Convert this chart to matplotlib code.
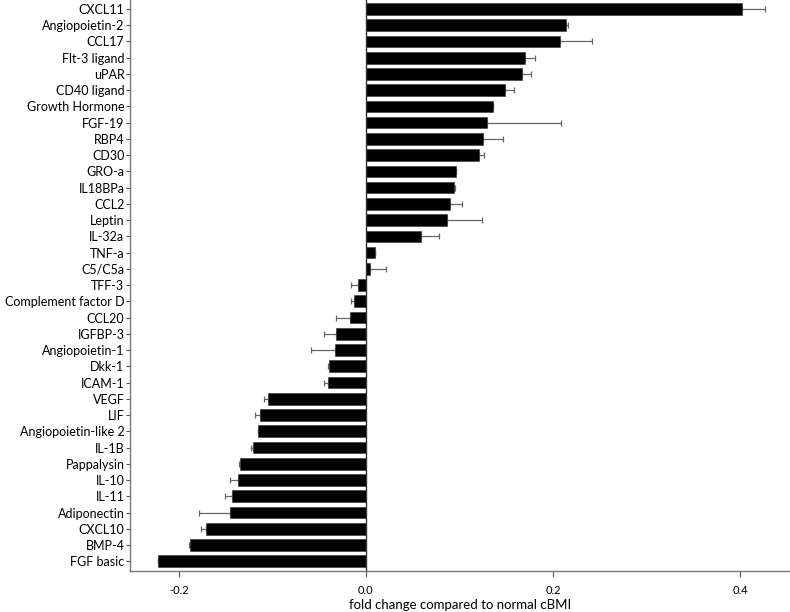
import numpy as np
import matplotlib.pyplot as plt

plt.rcParams['font.family'] = ['Lato', 'DejaVu Sans']

# proteins, top to bottom
names = ['CXCL11', 'Angiopoietin-2', 'CCL17', 'Flt-3 ligand', 'uPAR', 'CD40 ligand',
         'Growth Hormone', 'FGF-19', 'RBP4', 'CD30', 'GRO-a', 'IL18BPa', 'CCL2',
         'Leptin', 'IL-32a', 'TNF-a', 'C5/C5a', 'TFF-3', 'Complement factor D',
         'CCL20', 'IGFBP-3', 'Angiopoietin-1', 'Dkk-1', 'ICAM-1', 'VEGF', 'LIF',
         'Angiopoietin-like 2', 'IL-1B', 'Pappalysin', 'IL-10', 'IL-11',
         'Adiponectin', 'CXCL10', 'BMP-4', 'FGF basic']
fold = [0.402, 0.214, 0.207, 0.170, 0.167, 0.149,
        0.136, 0.129, 0.125, 0.1205, 0.0966, 0.0945, 0.090,
        0.087, 0.059, 0.010, 0.0046, -0.0086, -0.0125,
        -0.0168, -0.0318, -0.0328, -0.0392, -0.041, -0.1045, -0.1134,
        -0.1152, -0.1209, -0.1348, -0.1372, -0.1426,
        -0.1455, -0.1711, -0.1879, -0.2225]
err = [0.024, 0.0015, 0.035, 0.011, 0.0096, 0.0096,
       0.0, 0.079, 0.021, 0.006, 0.0, 0.001, 0.013,
       0.037, 0.019, 0.0, 0.017, 0.007, 0.003,
       0.015, 0.0134, 0.0257, 0.0018, 0.0035, 0.0045, 0.005,
       0.0, 0.002, 0.001, 0.0075, 0.008,
       0.0325, 0.0046, 0.001, 0.0]

fold = np.array(fold)
err = np.array(err)
y = np.arange(len(names))[::-1]
# error bar only on the outward side of each bar
lo = np.where(fold < 0, err, 0)
hi = np.where(fold >= 0, err, 0)

fig = plt.figure(figsize=(7.9, 6.12), dpi=100)
ax = fig.add_axes([0.1646, 0.067, 0.8354, 0.933])

ax.barh(y, fold, height=0.72, color='black', edgecolor='#444444', linewidth=0.5, zorder=2)
ax.errorbar(fold, y, xerr=[lo, hi], fmt='none', ecolor='#666666',
            elinewidth=0.9, capsize=2.5, capthick=0.9, zorder=1)
ax.axvline(0, color='#333333', linewidth=1.0, zorder=3)

ax.set_xlim(-0.252, 0.453)
ax.set_ylim(-0.6, len(names) - 1 + 0.55)
ax.set_yticks(y)
ax.set_yticklabels(names, fontsize=9)
ax.set_xticks([-0.2, 0.0, 0.2, 0.4])
ax.set_xticklabels(['-0.2', '0.0', '0.2', '0.4'], fontsize=8)
ax.set_xlabel('fold change compared to normal cBMI', fontsize=9.5, labelpad=2)

for s in ['top', 'right']:
    ax.spines[s].set_visible(False)
for s in ['left', 'bottom']:
    ax.spines[s].set_color('#777777')
    ax.spines[s].set_linewidth(1.0)
ax.tick_params(axis='y', length=3, pad=1, color='#555555')
ax.tick_params(axis='x', length=4, pad=6, color='#555555')

fig.savefig('out.png', dpi=100)
